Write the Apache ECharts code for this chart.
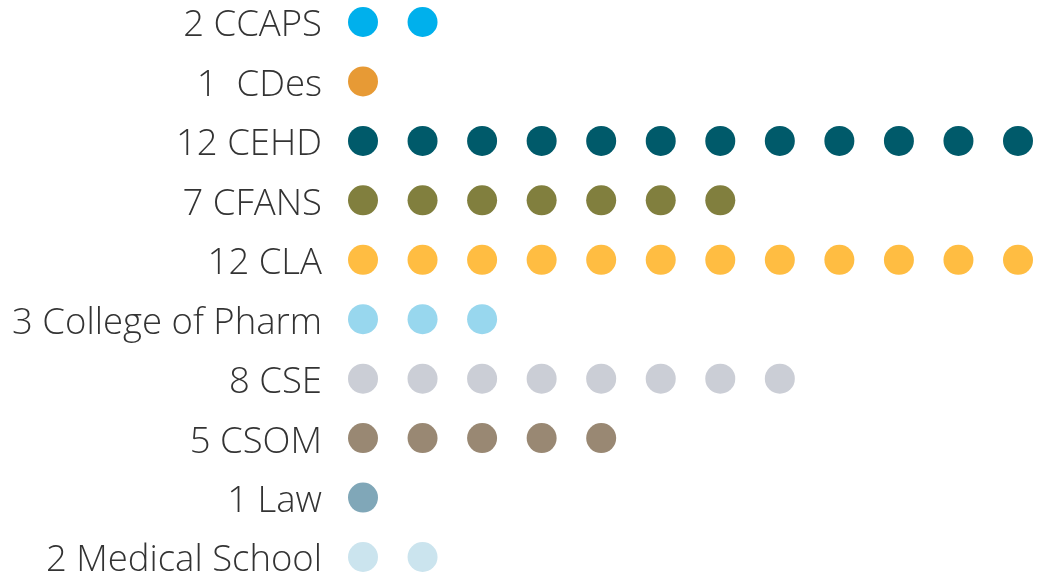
<!DOCTYPE html>
<html>
<head>
<meta charset="utf-8">
<script src="https://cdn.jsdelivr.net/npm/echarts@6/dist/echarts.min.js"></script>
<style>
  html, body { margin: 0; padding: 0; background: #fff; }
  #chart { width: 1039px; height: 575px; }
</style>
</head>
<body>
<div id="chart"></div>
<script>
// colleges, top to bottom
const colleges = ['CCAPS', 'CDes', 'CEHD', 'CFANS', 'CLA', 'College of Pharm', 'CSE', 'CSOM', 'Law', 'Medical School']
const counts = [2, 1, 12, 7, 12, 3, 8, 5, 1, 2]
const colors = ['#00b0ec', '#e79a35', '#005a6a', '#817f3e', '#ffbd42', '#98d7ee', '#cbced6', '#998873', '#80a7b8', '#cbe4ee']

const labels = colleges.map((c, i) => counts[i] + (c === 'CDes' ? '  ' : ' ') + c)

const chart = echarts.init(document.getElementById('chart'))

const series = colleges.map((c, i) => {
  const pts = []
  for (let k = 1; k <= counts[i]; k++) pts.push([k, labels[i]])
  return {
    type: 'scatter',
    name: c,
    symbol: 'circle',
    symbolSize: 30,
    itemStyle: { color: colors[i], opacity: 1 },
    data: pts,
    silent: true
  }
})

chart.setOption({
  animation: false,
  grid: { left: 363, right: 21, top: 22, bottom: 18, containLabel: false, outerBoundsMode: 'none' },
  xAxis: {
    type: 'value',
    min: 1,
    max: 12,
    show: false
  },
  yAxis: {
    type: 'category',
    data: labels,
    inverse: true,
    boundaryGap: false,
    axisLine: { show: false },
    axisTick: { show: false },
    splitLine: { show: false },
    axisLabel: {
      margin: 41,
      formatter: v => '{t|' + v + '}',
      rich: {
        t: {
          color: '#333',
          fontFamily: 'Open Sans',
          fontWeight: 300,
          fontSize: 36.5,
          lineHeight: 40,
          padding: [8, 0, 0, 0]
        }
      }
    }
  },
  series: series
})
</script>
</body>
</html>
